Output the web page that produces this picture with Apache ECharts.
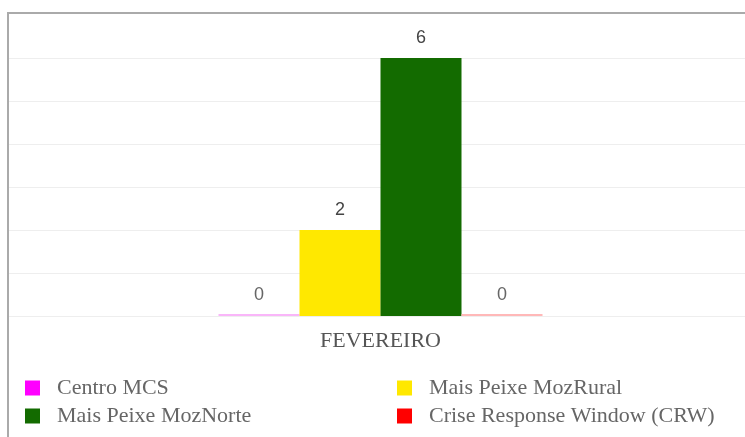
<!DOCTYPE html>
<html><head><meta charset="utf-8">
<script src="https://cdn.jsdelivr.net/npm/echarts@6/dist/echarts.min.js"></script>
<style>html,body{margin:0;padding:0;background:#fff}#c{width:745px;height:437px}</style>
</head><body><div id="c"></div>
<script>
const categories = ['FEVEREIRO'];
const seriesNames = ['Centro MCS', 'Mais Peixe MozRural', 'Mais Peixe MozNorte', 'Crise Response Window (CRW)'];
const centroMCS = [0];
const mozRural = [2];
const mozNorte = [6];
const crw = [0];
const colors = ['#ff00ff', '#ffe800', '#136b00', '#ff0000'];
const zeroColors = ['#f9b6f9', '#fff3a0', '#9fc89f', '#ffb8b8'];
const values = [centroMCS, mozRural, mozNorte, crw];

const chart = echarts.init(document.getElementById('c'));
const font = 'Liberation Serif';
const numFont = 'Liberation Sans';
chart.setOption({
  animation: false,
  graphic: [{
    type: 'rect', shape: {x: 8, y: 13, width: 760, height: 440},
    style: {fill: 'none', stroke: '#aaaaaa', lineWidth: 2}, silent: true
  }],
  grid: [
    {left: 16, right: 0, top: 58, bottom: 121, containLabel: false},
    {left: 9, right: 0, top: 58, bottom: 121, containLabel: false}
  ],
  xAxis: [{
    type: 'category', data: categories, gridIndex: 0,
    axisLine: {show: false}, axisTick: {show: false},
    axisLabel: {fontFamily: font, fontSize: 22, color: '#555', margin: 14}
  }, {
    type: 'category', data: categories, gridIndex: 1, show: false
  }],
  yAxis: [{
    type: 'value', min: 0, max: 6, interval: 1, gridIndex: 0,
    axisLabel: {show: false}, axisLine: {show: false}, axisTick: {show: false},
    splitLine: {show: false}
  }, {
    type: 'value', min: 0, max: 6, interval: 1, gridIndex: 1, z: 0,
    axisLabel: {show: false}, axisLine: {show: false}, axisTick: {show: false},
    splitLine: {lineStyle: {color: '#eeeeee', width: 1}}
  }],
  legend: [{
    data: [seriesNames[0], seriesNames[2]], orient: 'vertical', left: 20, top: 372,
    itemWidth: 15, itemHeight: 15, itemGap: 6, icon: 'rect',
    textStyle: {fontFamily: font, fontSize: 22, color: '#666', padding: [0, 0, 0, 12]}
  }, {
    data: [seriesNames[1], seriesNames[3]], orient: 'vertical', left: 392, top: 372,
    itemWidth: 15, itemHeight: 15, itemGap: 6, icon: 'rect',
    textStyle: {fontFamily: font, fontSize: 22, color: '#666', padding: [0, 0, 0, 12]}
  }],
  series: seriesNames.map((n, i) => ({
    name: n, type: 'bar', barWidth: 81, barGap: '0%',
    xAxisIndex: 0, yAxisIndex: 0,
    barMinHeight: 2,
    itemStyle: {color: colors[i]},
    label: {show: true, position: 'top', distance: 11, fontFamily: numFont, fontSize: 18, color: '#444'},
    data: values[i].map(v => v === 0 ? {value: v, itemStyle: {color: zeroColors[i]}, label: {color: '#666', distance: 10}} : v)
  }))
});
</script></body></html>
